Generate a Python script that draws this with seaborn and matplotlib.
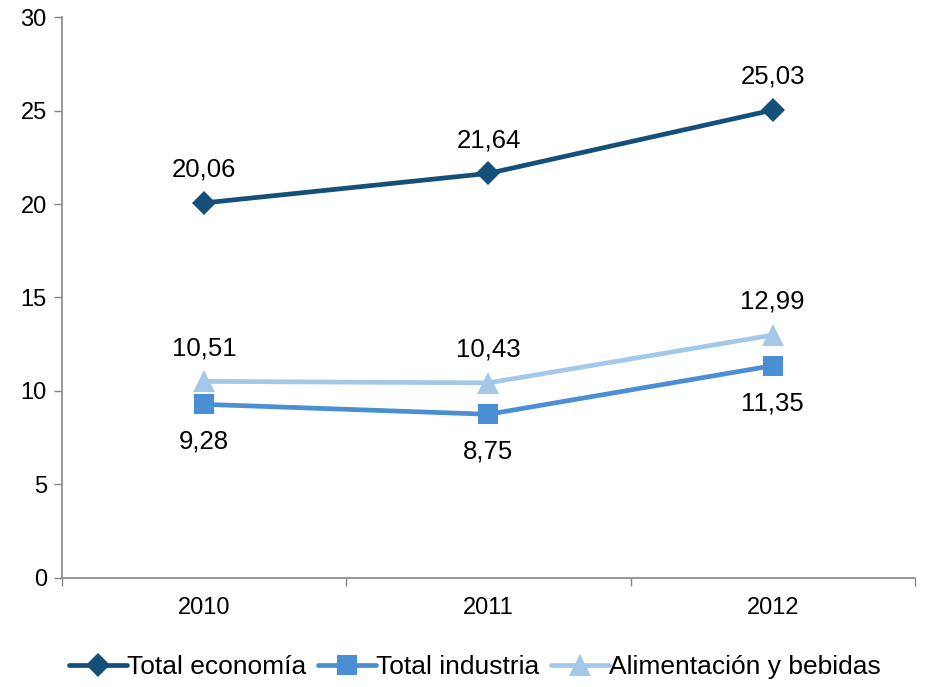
import matplotlib

matplotlib.use("Agg")
import matplotlib.pyplot as plt
import pandas as pd
import seaborn as sns
from matplotlib.ticker import FixedLocator, NullFormatter

years = ["2010", "2011", "2012"]
total_economia = [20.06, 21.64, 25.03]
total_industria = [9.28, 8.75, 11.35]
alimentacion = [10.51, 10.43, 12.99]

series_names = ["Total economía", "Total industria", "Alimentación y bebidas"]
series_values = [total_economia, total_industria, alimentacion]
colors = ["#14507A", "#4A8FD4", "#A4C8E8"]
markers = ["D", "s", "^"]
marker_sizes = [12, 15, 16]
label_offsets = [24, -27, 24]

sns.set_theme(style="white")
plt.rcParams["font.family"] = ["Liberation Sans", "DejaVu Sans"]
plt.rcParams["text.color"] = "black"

fig = plt.figure(figsize=(9.26, 6.87), dpi=100, facecolor="white")
ax = fig.add_axes([0.067, 0.159, 0.921, 0.816])

for name, values, color, marker, ms, off in zip(
    series_names, series_values, colors, markers, marker_sizes, label_offsets
):
    df = pd.DataFrame({"year": years, "value": values})
    sns.lineplot(
        data=df, x="year", y="value", ax=ax, color=color, linewidth=3.4,
        marker=marker, markersize=ms, markeredgewidth=0, label=name,
    )
    for i, v in enumerate(values):
        ax.annotate(
            f"{v:.2f}".replace(".", ","), (i, v), xytext=(0, off),
            textcoords="offset points", ha="center", va="center",
            fontsize=18.5, color="black",
        )

ax.set_xlim(-0.5, 2.5)
ax.set_ylim(0, 30)
ax.set_yticks([0, 5, 10, 15, 20, 25, 30])
ax.set_xticks([-0.5, 0.5, 1.5, 2.5])
ax.xaxis.set_major_formatter(NullFormatter())
ax.xaxis.set_minor_locator(FixedLocator([0, 1, 2]))
ax.set_xticklabels(years, minor=True, fontsize=17, color="black")
ax.tick_params(axis="x", which="major", length=6, width=1, color="#868686", direction="out", bottom=True)
ax.tick_params(axis="x", which="minor", length=0, pad=14)
ax.tick_params(axis="y", length=6, width=1, color="#868686", direction="out", left=True,
               labelsize=17, pad=5, labelcolor="black")
ax.set_xlabel("")
ax.set_ylabel("")
sns.despine(ax=ax)
for side in ["left", "bottom"]:
    ax.spines[side].set_color("#868686")
    ax.spines[side].set_linewidth(1.2)

leg = ax.legend(
    loc="upper center", bbox_to_anchor=(0.484, -0.095), ncol=3, frameon=False,
    fontsize=19, handlelength=2.2, handletextpad=0.0, columnspacing=0.45,
)
for t in leg.get_texts():
    t.set_color("black")

fig.savefig("out.png", dpi=100, facecolor="white")
